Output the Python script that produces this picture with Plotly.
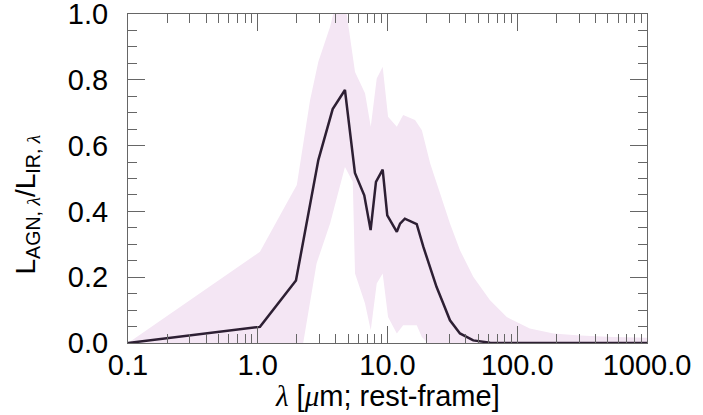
import plotly.graph_objects as go

# Mean AGN fraction curve (wavelength in micron, fraction)
mean_x = [0.1, 1.04, 1.97, 2.93, 3.78, 4.70, 5.61, 6.62, 7.41, 8.15, 9.18, 9.96,
          11.8, 12.5, 13.6, 16.8, 18.9, 21.3, 23.9, 26.9, 30.3, 36.2, 45.8, 61.7, 100.0, 1000.0]
mean_y = [0.0, 0.049, 0.19, 0.556, 0.711, 0.769, 0.517, 0.449, 0.343, 0.49, 0.527, 0.388,
          0.338, 0.363, 0.378, 0.361, 0.292, 0.231, 0.170, 0.12, 0.069, 0.029, 0.008, 0.001, 0.0, 0.0]

# Upper envelope of the shaded range
upper_x = [0.1, 1.04, 1.72, 2.0, 2.53, 2.93, 3.61, 3.82, 4.3, 4.85, 5.62, 6.71, 7.43, 8.26,
           9.18, 10.1, 11.8, 13.2, 16.3, 18.4, 21.3, 25.4, 30.3, 36.2, 45.8, 61.7, 83.0,
           125.0, 190.0, 305.0, 550.0, 1000.0]
upper_y = [0.0, 0.277, 0.434, 0.48, 0.738, 0.855, 0.961, 1.0, 1.04, 1.0, 0.824, 0.759, 0.657,
           0.804, 0.840, 0.688, 0.657, 0.693, 0.678, 0.647, 0.546, 0.455, 0.363, 0.282, 0.201,
           0.130, 0.079, 0.044, 0.029, 0.023, 0.018, 0.016]

# Lower envelope of the shaded range
lower_x = [0.1, 2.24, 2.84, 3.61, 4.70, 5.4, 5.62, 6.71, 7.43, 8.26, 9.18, 10.1, 11.8,
           13.2, 16.8, 18.4, 20.5, 1000.0]
lower_y = [0.0, 0.0, 0.242, 0.363, 0.535, 0.49, 0.211, 0.120, 0.039, 0.181, 0.211, 0.079,
           0.029, 0.054, 0.054, 0.018, 0.0, 0.0]

x_tickvals = [0.1, 1, 10, 100, 1000]
x_ticktext = ["0.1", "1.0", "10.0", "100.0", "1000.0"]
x_minor = [k * 10.0 ** e for e in range(-1, 3) for k in range(2, 10)]
y_tickvals = [0.0, 0.2, 0.4, 0.6, 0.8, 1.0]
y_ticktext = ["0.0", "0.2", "0.4", "0.6", "0.8", "1.0"]

FONT = "Liberation Sans, Arial, Helvetica, sans-serif"
GREEK = "Liberation Serif, DejaVu Serif, serif"
BAND = "#f4e6f4"
LINE = "#2d1f33"
AXIS = "#666666"
FS = 29

fig = go.Figure()
fig.add_trace(go.Scatter(
    x=upper_x + lower_x[::-1],
    y=upper_y + lower_y[::-1],
    fill="toself", fillcolor=BAND, mode="none",
    hoverinfo="skip", showlegend=False,
))
fig.add_trace(go.Scatter(
    x=mean_x, y=mean_y, mode="lines",
    line=dict(color=LINE, width=2.5),
    showlegend=False,
))

fig.update_layout(
    width=703, height=415,
    margin=dict(l=128, r=56, t=14, b=72, autoexpand=False),
    paper_bgcolor="white", plot_bgcolor="white",
    font=dict(family=FONT, size=FS, color="black"),
)
fig.update_xaxes(
    type="log", range=[-1, 3], automargin=False,
    tickmode="array", tickvals=x_tickvals, ticktext=x_ticktext,
    ticks="inside", ticklen=17, tickwidth=1, tickcolor=AXIS,
    minor=dict(ticks="inside", ticklen=9, tickwidth=1, tickcolor=AXIS,
               tickmode="array", tickvals=x_minor, showgrid=False),
    showline=True, linecolor=AXIS, linewidth=1, mirror="ticks",
    showgrid=False, zeroline=False, ticklabeloverflow="allow",
    tickfont=dict(size=FS), ticklabelstandoff=-4,
)
fig.update_yaxes(
    range=[0, 1], automargin=False,
    tickmode="array", tickvals=y_tickvals, ticktext=y_ticktext,
    ticks="inside", ticklen=17, tickwidth=1, tickcolor=AXIS,
    minor=dict(ticks="inside", ticklen=9, tickwidth=1, tickcolor=AXIS,
               dtick=0.05, tick0=0, showgrid=False),
    showline=True, linecolor=AXIS, linewidth=1, mirror="ticks",
    showgrid=False, zeroline=False, ticklabeloverflow="allow",
    tickfont=dict(size=FS), ticklabelstandoff=13,
)

# Axis titles
lam = f"<span style='font-family:{GREEK}'><i>λ</i></span>"
mu = f"<span style='font-family:{GREEK}'><i>μ</i></span>"
fig.add_annotation(
    text=f"{lam} [{mu}m; rest-frame]",
    xref="paper", yref="paper", x=0.5, y=0, xanchor="center", yanchor="middle",
    yshift=-53, showarrow=False, font=dict(size=FS, family=FONT, color="black"),
)
fig.add_annotation(
    text=f"L<sub>AGN, {lam}</sub>/L<sub>IR, {lam}</sub>",
    xref="paper", yref="paper", x=0, y=0.5, xanchor="center", yanchor="middle",
    xshift=-101, yshift=-26, textangle=-90, showarrow=False,
    font=dict(size=28, family=FONT, color="black"),
)

fig.write_html("out.html", config={"displayModeBar": False},
               post_script="document.body.style.margin='0';")
